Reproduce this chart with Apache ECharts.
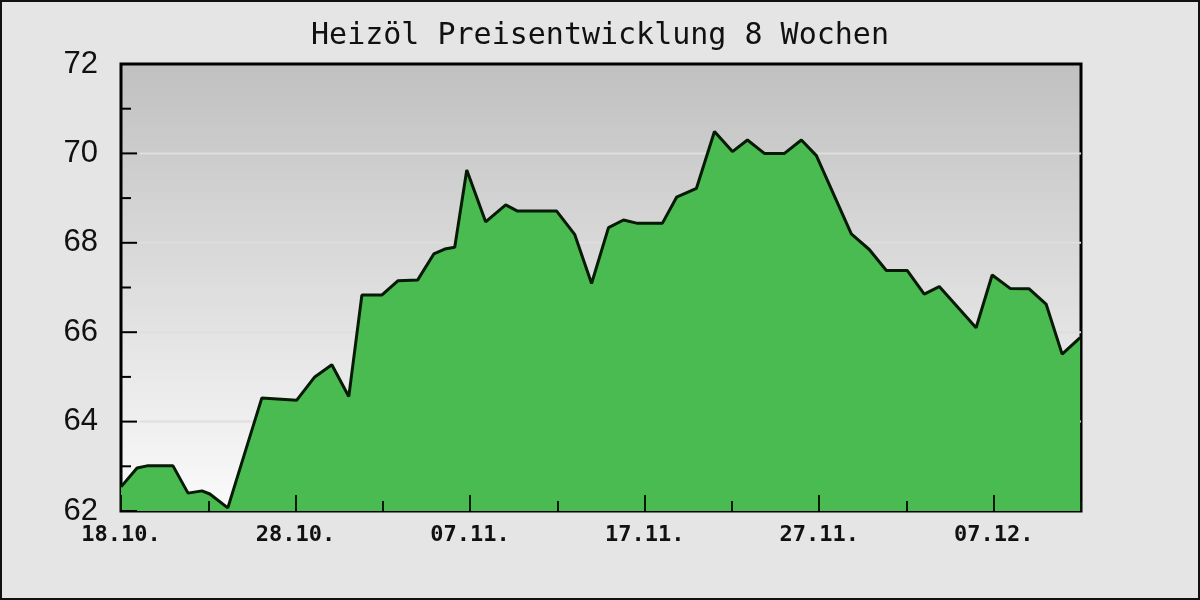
<!DOCTYPE html>
<html>
<head>
<meta charset="utf-8">
<script src="https://cdn.jsdelivr.net/npm/echarts@6/dist/echarts.min.js"></script>
<style>
html,body{margin:0;padding:0;background:#e5e5e5;}
#chart{width:1200px;height:600px;}
</style>
</head>
<body>
<div id="chart"></div>
<script>
const titleText = 'Heizöl Preisentwicklung 8 Wochen';
// x positions: days since 18.10.
const days = [0, 0.92, 1.49, 2.98, 3.84, 4.64, 5.09, 6.12, 8.07, 10.07,
  11.10, 12.08, 13.05, 13.80, 14.94, 15.86, 17.00, 17.92, 18.55, 19.12,
  19.81, 20.89, 22.04, 22.72, 24.96, 25.99, 26.96, 27.93, 28.79, 29.54,
  31.02, 31.83, 32.97, 34.00, 35.03, 35.89, 36.86, 38.01, 38.98, 39.84,
  41.84, 42.87, 43.85, 45.05, 46.02, 46.88, 48.99, 49.91, 50.94, 52.03,
  53.00, 53.92, 54.95];
const prices = [62.54, 62.96, 63.01, 63.01, 62.40, 62.45, 62.38, 62.07, 64.53, 64.48,
  65.00, 65.27, 64.56, 66.83, 66.83, 67.15, 67.17, 67.75, 67.86, 67.90,
  69.63, 68.47, 68.85, 68.71, 68.71, 68.19, 67.09, 68.34, 68.51, 68.44,
  68.44, 69.02, 69.22, 70.49, 70.04, 70.30, 70.00, 70.00, 70.30, 69.95,
  68.20, 67.85, 67.38, 67.38, 66.85, 67.02, 66.10, 67.28, 66.98, 66.97,
  66.63, 65.51, 65.88];
const xTickDays = [0, 10, 20, 30, 40, 50];
const xTickLabels = ['18.10.', '28.10.', '07.11.', '17.11.', '27.11.', '07.12.'];
const xMin = 0, xMax = 55;
const yMin = 62, yMax = 72;
const yTickValues = [62, 63, 64, 65, 66, 67, 68, 69, 70, 71, 72];
const gridValues = [64, 66, 68, 70];
const gridStartDay = 1.05;

const data = days.map((d, i) => [d, prices[i]]);
const chart = echarts.init(document.getElementById('chart'), null, {renderer: 'canvas'});
chart.setOption({
  backgroundColor: '#e5e5e5',
  animation: false,
  title: {
    text: titleText,
    left: 'center',
    top: 16,
    textStyle: {fontFamily: 'DejaVu Sans Mono', fontSize: 30, fontWeight: 'normal', color: '#111'}
  },
  graphic: [{
    type: 'rect', shape: {x: 1, y: 1, width: 1198, height: 598},
    style: {fill: 'none', stroke: '#111', lineWidth: 2}, silent: true, z: 100
  }],
  grid: {
    left: 121, top: 64, right: 119, bottom: 89,
    show: true,
    borderColor: '#000', borderWidth: 3,
    backgroundColor: new echarts.graphic.LinearGradient(0, 0, 0, 1, [
      {offset: 0, color: '#c0c0c0'},
      {offset: 1, color: '#fbfbfb'}
    ])
  },
  xAxis: [{
    type: 'value', min: xMin, max: xMax, interval: 10, z: 10,
    axisLine: {show: false},
    axisTick: {show: true, inside: true, length: 16, lineStyle: {color: '#061a06', width: 2}},
    splitLine: {show: false},
    axisLabel: {
      margin: 13,
      fontFamily: 'DejaVu Sans Mono', fontSize: 22, fontWeight: 'bold', color: '#111',
      showMaxLabel: false,
      formatter: v => { const i = xTickDays.indexOf(v); return i >= 0 ? xTickLabels[i] : ''; }
    }
  }, {
    type: 'value', min: xMin, max: xMax, interval: 5, position: 'bottom', z: 10,
    axisLine: {show: false},
    axisTick: {show: true, inside: true, length: 10, lineStyle: {color: '#061a06', width: 2}},
    splitLine: {show: false},
    axisLabel: {show: false}
  }],
  yAxis: {
    type: 'value', min: yMin, max: yMax, interval: 2, z: 10,
    axisLine: {show: false},
    axisTick: {show: false},
    splitLine: {show: false},
    axisLabel: {margin: 23, fontFamily: 'Liberation Sans', fontSize: 31, color: '#111'}
  },
  series: [{
    name: 'grid lines',
    type: 'custom',
    silent: true,
    z: 1,
    data: gridValues.map(v => [gridStartDay, v]),
    renderItem: (params, api) => {
      const a = api.coord([api.value(0), api.value(1)]);
      const b = api.coord([xMax, api.value(1)]);
      return {type: 'line', shape: {x1: a[0], y1: a[1], x2: b[0], y2: b[1]},
        style: {stroke: '#dedede', lineWidth: 2}};
    }
  }, {
    type: 'line',
    data: data,
    showSymbol: false,
    symbol: 'none',
    lineStyle: {color: '#061a06', width: 3},
    areaStyle: {color: '#49bb50', opacity: 1, origin: 'start'},
    z: 2
  }, {
    name: 'y ticks',
    type: 'custom',
    silent: true,
    z: 20,
    data: yTickValues.map(v => [xMin, v]),
    renderItem: (params, api) => {
      const v = api.value(1);
      const p = api.coord([api.value(0), v]);
      const len = (v % 2 === 0) ? 16 : 10;
      return {type: 'line', shape: {x1: p[0], y1: p[1], x2: p[0] + len, y2: p[1]},
        style: {stroke: '#000', lineWidth: 2}};
    }
  }]
});
</script>
</body>
</html>
